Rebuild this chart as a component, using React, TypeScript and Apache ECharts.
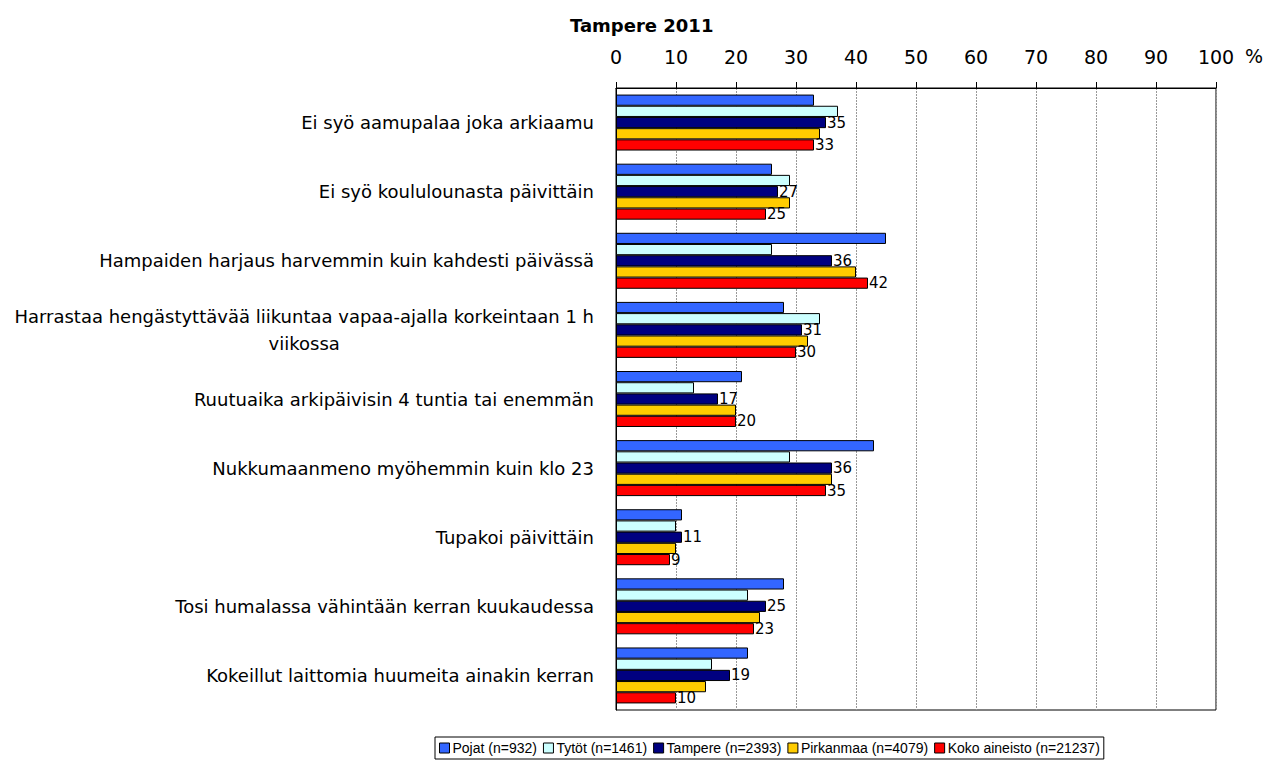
import React, { useEffect, useRef } from "react";
import * as echarts from "echarts";

const categories = [
  "Ei syö aamupalaa joka arkiaamu",
  "Ei syö koululounasta päivittäin",
  "Hampaiden harjaus harvemmin kuin kahdesti päivässä",
  "Harrastaa hengästyttävää liikuntaa vapaa-ajalla korkeintaan 1 h\nviikossa",
  "Ruutuaika arkipäivisin 4 tuntia tai enemmän",
  "Nukkumaanmeno myöhemmin kuin klo 23",
  "Tupakoi päivittäin",
  "Tosi humalassa vähintään kerran kuukaudessa",
  "Kokeillut laittomia huumeita ainakin kerran",
];

const pojat = [33, 26, 45, 28, 21, 43, 11, 28, 22];
const tytot = [37, 29, 26, 34, 13, 29, 10, 22, 16];
const tampere = [35, 27, 36, 31, 17, 36, 11, 25, 19];
const pirkanmaa = [34, 29, 40, 32, 20, 36, 10, 24, 15];
const koko = [33, 25, 42, 30, 20, 35, 9, 23, 10];

const seriesNames = [
  "Pojat (n=932)",
  "Tytöt (n=1461)",
  "Tampere (n=2393)",
  "Pirkanmaa (n=4079)",
  "Koko aineisto (n=21237)",
];
const seriesColors = ["#3366FF", "#CCFFFF", "#000080", "#FFCC00", "#FF0000"];
const seriesData = [pojat, tytot, tampere, pirkanmaa, koko];
const labelled = [false, false, true, false, true];

const xTicks = [0, 10, 20, 30, 40, 50, 60, 70, 80, 90, 100];

export default function App() {
  const ref = useRef<HTMLDivElement>(null);
  useEffect(() => {
    if (!ref.current) return;
    const chart = echarts.init(ref.current, null, { renderer: "svg" });
    const font = "Liberation Sans, Arial, sans-serif";
    const wide = "DejaVu Sans, sans-serif";
    chart.setOption({
      animation: false,
      backgroundColor: "#ffffff",
      textStyle: { fontFamily: font },
      title: {
        text: "Tampere 2011",
        left: 565,
        top: 11,
        textStyle: { fontSize: 18, fontWeight: "bold", color: "#000", fontFamily: wide },
      },
      legend: {
        left: 435,
        top: 737,
        orient: "horizontal",
        icon: "rect",
        itemWidth: 10,
        itemHeight: 10,
        itemGap: 6,
        padding: [4, 4, 4, 4],
        borderColor: "#000",
        borderWidth: 1,
        textStyle: { fontSize: 14, color: "#000", fontFamily: font, padding: [0, 0, 0, -2] },
        data: seriesNames.map((n, i) => ({
          name: n,
          itemStyle: { color: seriesColors[i], borderColor: "#000", borderWidth: 1 },
        })),
      },
      grid: {
        left: 616,
        right: 60,
        top: 88,
        bottom: 72,
        show: true,
        borderColor: "#000",
        borderWidth: 1,
        backgroundColor: "#fff",
      },
      xAxis: {
        type: "value",
        position: "top",
        min: 0,
        max: 100,
        interval: 10,
        axisLine: { show: true, lineStyle: { color: "#000", width: 1 } },
        axisTick: { show: true, length: 6, lineStyle: { color: "#000" } },
        axisLabel: {
          margin: 22,
          fontSize: 19,
          color: "#000",
          fontFamily: wide,
          formatter: (v: number) => (xTicks.includes(v) ? String(v) : ""),
        },
        splitLine: { show: true, lineStyle: { color: "#999", type: [2, 1], width: 1 } },
      },
      yAxis: {
        type: "category",
        inverse: true,
        data: categories,
        axisLine: { show: true, lineStyle: { color: "#000" } },
        axisTick: { show: false },
        axisLabel: {
          margin: 22,
          fontSize: 18,
          color: "#000",
          fontFamily: wide,
          lineHeight: 27,
          formatter: (v: string) => {
            const parts = v.split("\n");
            if (parts.length === 1) return v;
            return parts.map((p) => "{c|" + p + "}").join("\n");
          },
          rich: { c: { align: "center", fontSize: 18, color: "#000", fontFamily: wide, lineHeight: 27 } },
        },
      },
      graphic: [
        {
          type: "text",
          left: 1245,
          top: 46,
          style: { text: "%", fontSize: 19, fill: "#000", fontFamily: wide },
        },
      ],
      series: seriesNames.map((n, i) => ({
        name: n,
        type: "bar",
        data: seriesData[i],
        barGap: "0%",
        barCategoryGap: "19%",
        itemStyle: { color: seriesColors[i], borderColor: "#000", borderWidth: 1 },
        label: {
          show: labelled[i],
          position: "right",
          distance: 1,
          fontSize: 15,
          color: "#000",
          fontFamily: wide,
        },
      })),
    });
    return () => chart.dispose();
  }, []);
  return (
    <div
      ref={ref}
      style={{ position: "fixed", left: 0, top: 0, width: 1276, height: 782 }}
    />
  );
}
